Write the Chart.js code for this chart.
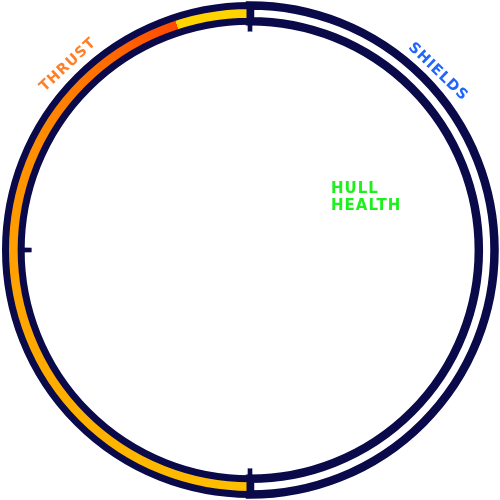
<!DOCTYPE html>
<html>
<head>
<meta charset="utf-8">
<script src="https://cdn.jsdelivr.net/npm/chart.js@4/dist/chart.umd.min.js"></script>
<style>
  html, body { margin: 0; padding: 0; background: #ffffff; }
  #wrap { width: 500px; height: 500px; position: relative; }
</style>
</head>
<body>
<div id="wrap"><canvas id="c" width="500" height="500"></canvas></div>
<script>
// ---- data ----
const sectors = ['SHIELDS', 'THRUST'];
const sectorSpan = [180, 180];          // degrees of the ring each gauge covers
const tickRing = [0.6, 178.8, 1.2, 88.8, 1.2, 88.8, 0.6]; // small marker wedges (top, bottom, left)
const hullLabel = ['HULL', 'HEALTH'];

const NAVY = '#0a0a4a';

function thrustGradient(context) {
  const chart = context.chart;
  const area = chart.chartArea;
  if (!area) return '#FFA500';
  const cx = (area.left + area.right) / 2;
  const cy = (area.top + area.bottom) / 2;
  const start = (342 - 90) * Math.PI / 180;
  const g = chart.ctx.createConicGradient(start, cx, cy);
  g.addColorStop(0.00, '#FFD700');
  g.addColorStop(0.05, '#FFD200');
  g.addColorStop(0.55, '#FFC000');
  g.addColorStop(0.68, '#FFB000');
  g.addColorStop(0.80, '#FFA000');
  g.addColorStop(0.88, '#FF8C00');
  g.addColorStop(0.94, '#FF7000');
  g.addColorStop(1.00, '#FF4A00');
  return g;
}

const hudText = {
  id: 'hudText',
  afterDraw(chart) {
    const ctx = chart.ctx;
    ctx.save();
    ctx.textAlign = 'center';
    ctx.textBaseline = 'middle';
    ctx.font = 'bold 14.5px "DejaVu Sans"';
    if ('letterSpacing' in ctx) ctx.letterSpacing = '1px';
    // THRUST
    ctx.save();
    ctx.translate(68, 65);
    ctx.rotate(-43 * Math.PI / 180);
    ctx.fillStyle = '#FF7F27';
    ctx.fillText(sectors[1], 0, 0);
    ctx.restore();
    // SHIELDS
    ctx.save();
    ctx.translate(438, 72);
    ctx.rotate(44 * Math.PI / 180);
    ctx.fillStyle = '#1F66FF';
    ctx.fillText(sectors[0], 0, 0);
    ctx.restore();
    // HULL HEALTH
    ctx.textAlign = 'left';
    ctx.textBaseline = 'alphabetic';
    ctx.font = 'bold 15px "DejaVu Sans"';
    if ('letterSpacing' in ctx) ctx.letterSpacing = '1px';
    ctx.fillStyle = '#1EF01E';
    ctx.fillText(hullLabel[0], 331, 193);
    ctx.fillText(hullLabel[1], 331, 210);
    ctx.restore();
  }
};

new Chart(document.getElementById('c'), {
  type: 'doughnut',
  data: {
    labels: sectors,
    datasets: [
      {
        data: sectorSpan,
        backgroundColor: (ctx) => ctx.dataIndex === 1 ? thrustGradient(ctx) : '#ffffff',
        borderColor: NAVY,
        borderWidth: [8.5, 7],
        borderAlign: 'center',
        borderJoinStyle: 'miter',
        weight: 15
      },
      {
        data: tickRing,
        backgroundColor: tickRing.map((v, i) => i % 2 === 0 ? NAVY : 'rgba(0,0,0,0)'),
        borderWidth: 0,
        weight: 10
      }
    ]
  },
  options: {
    responsive: false,
    animation: false,
    radius: 244.5,
    cutout: 219.5,
    layout: { padding: 0 },
    plugins: {
      legend: { display: false },
      tooltip: { enabled: false },
      title: { display: false }
    },
    events: []
  },
  plugins: [hudText]
});
</script>
</body>
</html>
